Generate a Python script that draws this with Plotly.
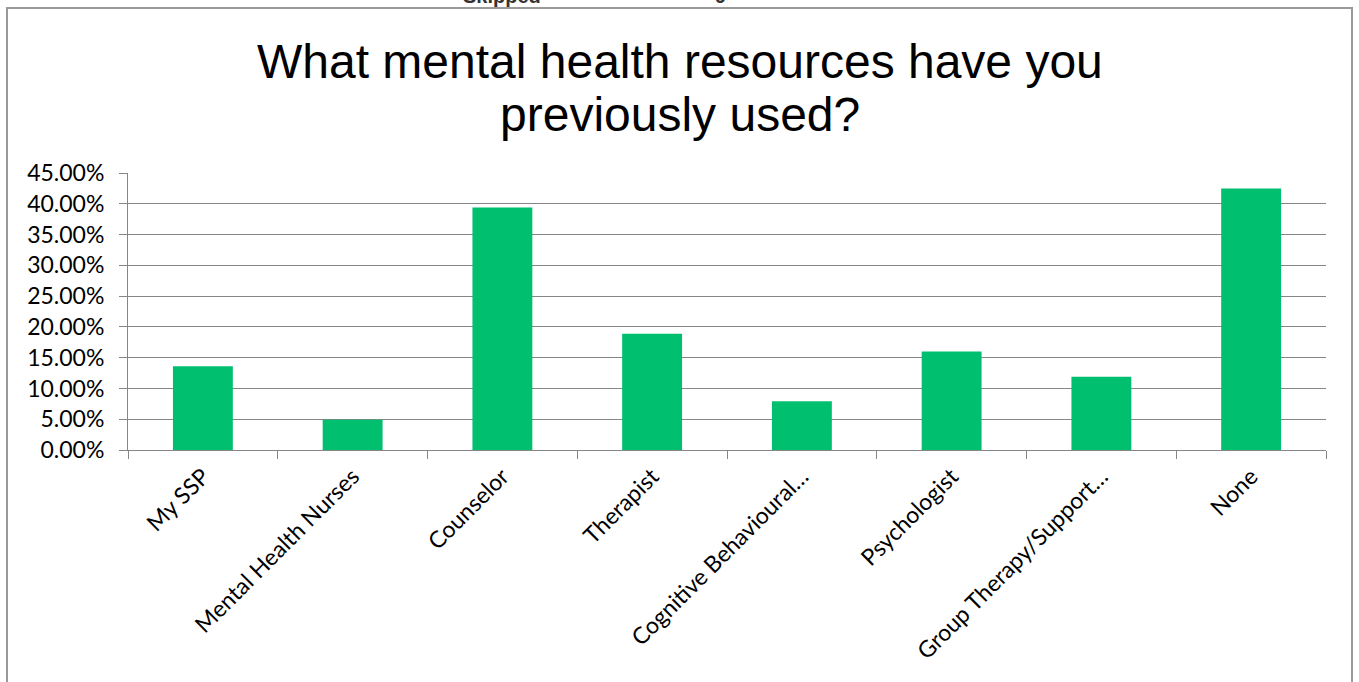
import plotly.graph_objects as go

# Survey responses: share of respondents who used each resource
categories = [
    "My SSP",
    "Mental Health Nurses",
    "Counselor",
    "Therapist",
    "Cognitive Behavioural…",
    "Psychologist",
    "Group Therapy/Support…",
    "None",
]
shares = [13.6, 4.9, 39.4, 18.9, 7.9, 16.0, 11.9, 42.5]
y_ticks = [0, 5, 10, 15, 20, 25, 30, 35, 40, 45]
y_tick_labels = [f"{v:.2f}%" for v in y_ticks]
title_lines = ["What mental health resources have you", "previously used?"]

W, H = 1359, 682
L, R, T, B = 128, 33, 173, 232
pw, ph = W - L - R, H - T - B


def px_x(px):
    return (px - L) / pw


def px_y(py):
    return (H - B - py) / ph


fig = go.Figure(
    go.Bar(
        x=categories,
        y=shares,
        marker=dict(color="#00BF6F", line=dict(width=0)),
        width=0.4,
        hoverinfo="x+y",
    )
)

title_font = dict(family="Liberation Sans, Arial, sans-serif", size=48, color="black")
header_font = dict(family="Liberation Sans, Arial, sans-serif", size=20, color="#333333")

annotations = [
    dict(
        text=line,
        xref="paper",
        yref="paper",
        x=px_x(680),
        y=px_y(cy),
        xanchor="center",
        yanchor="middle",
        showarrow=False,
        font=title_font,
    )
    for line, cy in zip(title_lines, [61, 114])
]
annotations += [
    dict(
        text=f"<b>{txt}</b>",
        xref="paper",
        yref="paper",
        x=px_x(cx),
        y=px_y(-4),
        xanchor="center",
        yanchor="middle",
        showarrow=False,
        font=header_font,
    )
    for txt, cx in [("Skipped", 502), ("9", 720)]
]

fig.update_layout(
    width=W,
    height=H,
    margin=dict(l=L, r=R, t=T, b=B),
    paper_bgcolor="white",
    plot_bgcolor="white",
    showlegend=False,
    font=dict(family="Lato, Carlito, sans-serif", color="black"),
    xaxis=dict(
        type="category",
        showgrid=False,
        showline=True,
        linecolor="#868686",
        linewidth=1,
        ticks="outside",
        tickson="boundaries",
        ticklen=8,
        tickcolor="#868686",
        tickangle=-45,
        ticklabelstandoff=3,
        tickfont=dict(size=23, color="black"),
    ),
    yaxis=dict(
        range=[0, 45],
        tickvals=y_ticks,
        ticktext=y_tick_labels,
        showgrid=True,
        gridcolor="#868686",
        gridwidth=1,
        zeroline=False,
        showline=True,
        linecolor="#868686",
        linewidth=1,
        ticks="outside",
        ticklen=8,
        tickcolor="#868686",
        ticklabelstandoff=10,
        tickfont=dict(size=23, color="black"),
    ),
    shapes=[
        dict(
            type="rect",
            xref="paper",
            yref="paper",
            x0=px_x(7),
            x1=px_x(1352),
            y0=px_y(H + 20),
            y1=px_y(8),
            line=dict(color="#9a9a9a", width=2),
            fillcolor="rgba(0,0,0,0)",
            layer="below",
        )
    ],
    annotations=annotations,
)

fig.write_html("out.html")
